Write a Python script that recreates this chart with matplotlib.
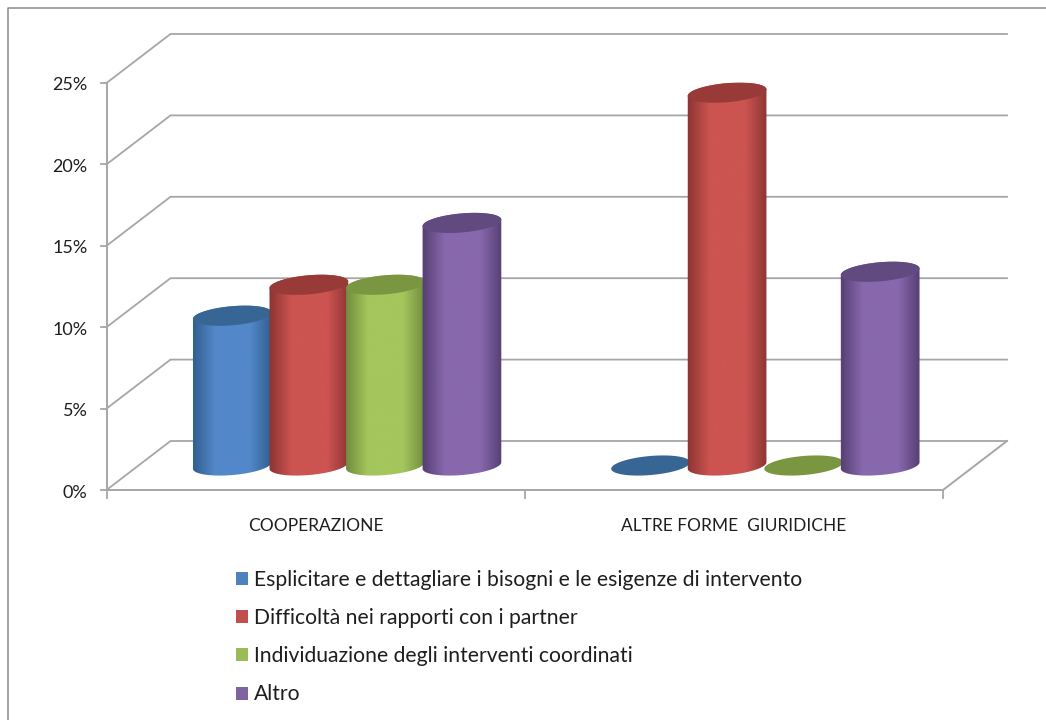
import numpy as np
import matplotlib
matplotlib.use("Agg")
import matplotlib.pyplot as plt
from matplotlib.colors import LinearSegmentedColormap
from matplotlib.lines import Line2D
from matplotlib.patches import Patch, Polygon

plt.rcParams['font.family'] = ['Lato', 'DejaVu Sans']

# Chart data (percent of respondents per legal form)
categories = ["COOPERAZIONE", "ALTRE FORME  GIURIDICHE"]
series_names = [
    "Esplicitare e dettagliare i bisogni e le esigenze di intervento",
    "Difficoltà nei rapporti con i partner",
    "Individuazione degli interventi coordinati",
    "Altro",
]
esplicitare = [9.2, 0.0]
difficolta = [11.1, 22.9]
individuazione = [11.1, 0.0]
altro = [14.9, 11.9]
series_values = [esplicitare, difficolta, individuazione, altro]
y_ticks = [0, 5, 10, 15, 20, 25]

# Shades per series: cylinder edge, cylinder centre, top cap, legend swatch
edge_cols = ["#2f5d8e", "#8b3432", "#6f8a3c", "#543e72"]
mid_cols = ["#5288c9", "#cc5451", "#a4c65c", "#8868ad"]
cap_cols = ["#376594", "#983b38", "#7a9640", "#614a80"]
swatch_cols = ["#4f81bd", "#c0504d", "#9bbb59", "#8064a2"]
GRID = "#a6a6a6"
TEXT = "#1e1e1e"

W, H = 1046, 720
fig = plt.figure(figsize=(W / 100, H / 100), dpi=100, facecolor="white")

# Plot plane of the front of the 3-D box, in figure pixels
left, right, base, top = 106.5, 943.0, 490.0, 83.0
ax = fig.add_axes([left / W, 1 - base / H, (right - left) / W, (base - top) / H])
ax.set_xlim(0, len(categories))
ax.set_ylim(0, 25)
ax.axis("off")

px_x = (right - left) / len(categories)   # pixels per category
px_y = (base - top) / 25                  # pixels per percent
depth_x = 64 / px_x                       # depth of the box along x
depth_y = 49 / px_y                       # depth of the box along y

# Outer chart frame: only the top and left edges fall inside the figure
fig.add_artist(Line2D([8 / W, 8 / W, 1], [0, 1 - 8 / H, 1 - 8 / H], transform=fig.transFigure,
                      color="#8c8c8c", lw=1.1))

# Back wall gridlines and the side wall diagonals
for v in y_ticks:
    ax.plot([0, depth_x, 2 + depth_x], [v, v + depth_y, v + depth_y],
            color=GRID, lw=1.3, clip_on=False, zorder=1, solid_joinstyle="miter")
    ax.plot([-6 / px_x, 0], [v, v], color=GRID, lw=1.3, clip_on=False, zorder=1)
    ax.text(-19 / px_x, v - 2.5 / px_y, f"{v}%", ha="right", va="center", fontsize=13,
            color=TEXT, clip_on=False)

# Front axis lines and the floor's right edge
ax.plot([0, 0], [0, 25], color=GRID, lw=1.4, clip_on=False, zorder=1)
ax.plot([0, 2, 2 + depth_x], [0, 0, depth_y], color=GRID, lw=1.4, clip_on=False, zorder=1)
for c in range(len(categories) + 1):
    ax.plot([c, c], [0, -8 / px_y], color=GRID, lw=1.3, clip_on=False, zorder=1)

# Category labels
for i, name in enumerate(categories):
    ax.text(i + 0.5, -36 / px_y, name, ha="center", va="center", fontsize=12.5,
            color=TEXT, clip_on=False)

# Cylinder geometry
bar_w = 0.183
half_w = 39.5                      # pixels
half_h = 9.5                       # pixels
tilt = np.radians(5)


def ellipse_xy(cx, cy, t):
    """Points on a tilted ellipse centred on a data point, returned in data units."""
    ex = half_w * np.cos(t) * np.cos(tilt) - half_h * np.sin(t) * np.sin(tilt)
    ey = half_w * np.cos(t) * np.sin(tilt) + half_h * np.sin(t) * np.cos(tilt)
    return cx + ex / px_x, cy + ey / px_y


def draw_cylinder(cx, floor, value, k, z):
    tip = floor + value
    t_all = np.linspace(0, 2 * np.pi, 121)
    if value > 0:
        # Body: lower half of the base ellipse joined to the top ellipse's rim
        t_low = np.linspace(np.pi, 2 * np.pi, 61)
        t_up = np.linspace(0, np.pi, 61)
        bx, by = ellipse_xy(cx, floor, t_low)
        tx, ty = ellipse_xy(cx, tip, t_up)
        verts = np.column_stack([np.r_[bx, tx], np.r_[by, ty]])
        cmap = LinearSegmentedColormap.from_list(
            "shade", [edge_cols[k], mid_cols[k], mid_cols[k], edge_cols[k]])
        shade = np.interp(np.linspace(0, 1, 200), [0, .42, .58, 1], [0, .5, .5, 1])[None, :]
        span = half_w / px_x * 1.02
        im = ax.imshow(shade, cmap=cmap, aspect="auto", vmin=0, vmax=1, zorder=z,
                       extent=[cx - span, cx + span, floor - 1, tip + 1],
                       interpolation="bilinear", clip_on=True)
        im.set_clip_path(Polygon(verts, closed=True, transform=ax.transData))
    cx_top, cy_top = ellipse_xy(cx, tip, t_all)
    ax.fill(cx_top, cy_top, color=cap_cols[k], lw=0, zorder=z + 0.1, clip_on=False)


# Bars stand halfway through the depth of the box
for k, vals in enumerate(series_values):
    for i, v in enumerate(vals):
        cx = i + 0.5 + depth_x / 2 - 0.5 / px_x + (k - 1.5) * bar_w
        draw_cylinder(cx, depth_y / 2, v, k, 3 + k)

ax.set_xlim(0, len(categories))
ax.set_ylim(0, 25)

# Legend
handles = [Patch(facecolor=c, edgecolor="none") for c in swatch_cols]
fig.legend(handles, series_names, loc="upper left",
           bbox_to_anchor=(236 / W, 1 - 570 / H), bbox_transform=fig.transFigure,
           frameon=False, fontsize=15.2, labelcolor=TEXT, borderpad=0, borderaxespad=0,
           handlelength=0.57, handleheight=0.57, handletextpad=0.28, labelspacing=0.86)

fig.savefig("out.png", dpi=100, facecolor="white")
